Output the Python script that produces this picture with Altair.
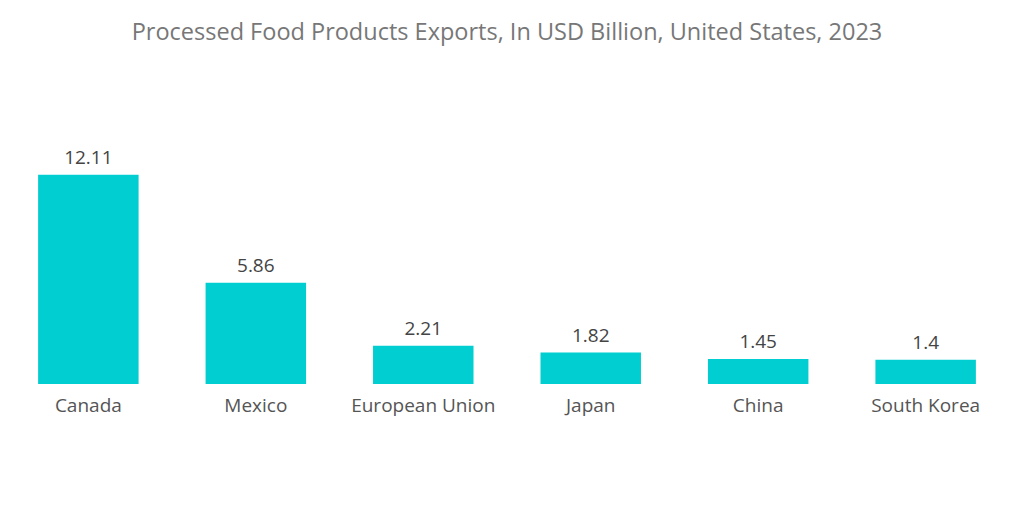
import altair as alt
import pandas as pd

categories = ["Canada", "Mexico", "European Union", "Japan", "China", "South Korea"]
values = [12.11, 5.86, 2.21, 1.82, 1.45, 1.4]
labels = ["12.11", "5.86", "2.21", "1.82", "1.45", "1.4"]

df = pd.DataFrame({"country": categories, "value": values, "label": labels})

FONT = "Open Sans"

x = alt.X("country:N", sort=categories, title=None,
          scale=alt.Scale(paddingInner=0.4, paddingOuter=0.15),
          axis=alt.Axis(labelAngle=0, domain=False, ticks=False, grid=False,
                        labelFontSize=19, labelColor="#555555", labelFont=FONT,
                        labelPadding=12))
y = alt.Y("value:Q", title=None, scale=alt.Scale(domain=[0, 14], nice=False),
          axis=None)

bars = alt.Chart(df).mark_bar(color="#00CED1").encode(x=x, y=y)
text = alt.Chart(df).mark_text(dy=-17, fontSize=19, color="#444444", font=FONT).encode(
    x=x, y=y, text="label:N")

chart = (bars + text).properties(
    width=988, height=242,
    background="white",
    title=alt.Title("Processed Food Products Exports, In USD Billion, United States, 2023",
                    fontSize=23.5, color="#777777", font=FONT, fontWeight="normal",
                    anchor="middle", offset=98),
    autosize=alt.AutoSizeParams(type="none"),
    padding={"left": 5, "top": 134, "right": 5, "bottom": 60},
).configure_view(strokeWidth=0, stroke="transparent")

chart.save("out.html", embed_options={"renderer": "svg", "actions": False})
